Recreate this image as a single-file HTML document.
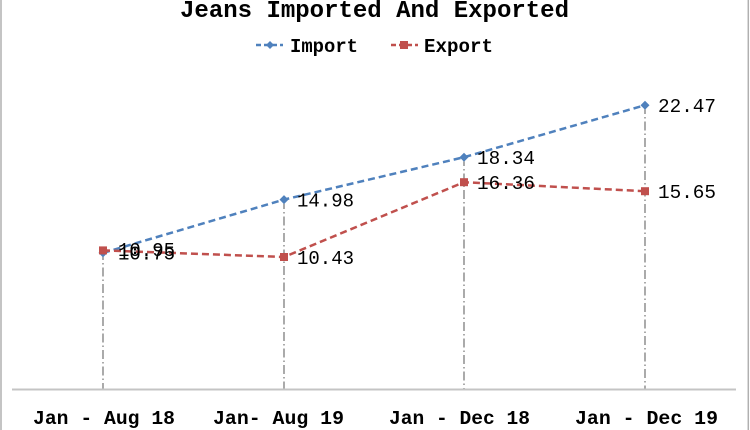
<!DOCTYPE html>
<html>
<head>
<meta charset="utf-8">
<style>
  html,body{margin:0;padding:0;background:#fff;}
  svg{display:block;}
  text{font-family:"Liberation Mono","Courier New",monospace;fill:#000;}
</style>
</head>
<body>
<svg width="750" height="430" viewBox="0 0 750 430" xmlns="http://www.w3.org/2000/svg">
  <rect x="0" y="0" width="750" height="430" fill="#fff"/>
  <!-- side borders -->
  <line x1="1" y1="0" x2="1" y2="430" stroke="#b0b0b0" stroke-width="1.5"/>
  <line x1="748.3" y1="0" x2="748.3" y2="430" stroke="#b0b0b0" stroke-width="1.5"/>

  <!-- title -->
  <text x="180" y="17" font-size="24" font-weight="bold" textLength="389" lengthAdjust="spacingAndGlyphs">Jeans Imported And Exported</text>

  <!-- legend -->
  <line x1="256" y1="45" x2="283" y2="45" stroke="#4f81bd" stroke-width="2.5" stroke-dasharray="5,3"/>
  <path d="M270 41 L274 45 L270 49 L266 45 Z" fill="#4f81bd"/>
  <text x="290" y="52" font-size="19" font-weight="bold" textLength="68" lengthAdjust="spacingAndGlyphs">Import</text>
  <line x1="391" y1="45" x2="418" y2="45" stroke="#c0504d" stroke-width="2.5" stroke-dasharray="5,3"/>
  <rect x="400" y="41" width="8" height="8" fill="#c0504d"/>
  <text x="424" y="52" font-size="19" font-weight="bold" textLength="69" lengthAdjust="spacingAndGlyphs">Export</text>

  <!-- drop lines -->
  <g stroke="#666666" stroke-width="1.1" stroke-dasharray="9,3,1.5,3" fill="none">
    <line x1="103" y1="251" x2="103" y2="389"/>
    <line x1="284" y1="200" x2="284" y2="389"/>
    <line x1="464" y1="157" x2="464" y2="389"/>
    <line x1="645" y1="105" x2="645" y2="389"/>
  </g>

  <!-- axis line -->
  <line x1="12" y1="389.5" x2="736" y2="389.5" stroke="#c4c4c4" stroke-width="2"/>

  <!-- Import series -->
  <polyline points="103,252.9 284,199.6 464,157.2 645,105.2" fill="none" stroke="#4f81bd" stroke-width="2.5" stroke-dasharray="7,4"/>
  <g fill="#4f81bd">
    <path d="M103 248.4 L107.5 252.9 L103 257.4 L98.5 252.9 Z"/>
    <path d="M284 195.1 L288.5 199.6 L284 204.1 L279.5 199.6 Z"/>
    <path d="M464 152.7 L468.5 157.2 L464 161.7 L459.5 157.2 Z"/>
    <path d="M645 100.7 L649.5 105.2 L645 109.7 L640.5 105.2 Z"/>
  </g>

  <!-- Export series -->
  <polyline points="103,250.4 284,257.0 464,182.2 645,191.2" fill="none" stroke="#c0504d" stroke-width="2.5" stroke-dasharray="7,4"/>
  <g fill="#c0504d">
    <rect x="99" y="246.4" width="8" height="8"/>
    <rect x="280" y="253" width="8" height="8"/>
    <rect x="460" y="178.2" width="8" height="8"/>
    <rect x="641" y="187.2" width="8" height="8"/>
  </g>

  <!-- data labels -->
  <g font-size="19">
    <text x="118" y="259.5" textLength="57" lengthAdjust="spacingAndGlyphs">10.75</text>
    <text x="297" y="206.5" textLength="57" lengthAdjust="spacingAndGlyphs">14.98</text>
    <text x="477" y="164" textLength="58" lengthAdjust="spacingAndGlyphs">18.34</text>
    <text x="658" y="112" textLength="58" lengthAdjust="spacingAndGlyphs">22.47</text>

    <text x="118" y="256" textLength="57" lengthAdjust="spacingAndGlyphs">10.95</text>
    <text x="297" y="264" textLength="57" lengthAdjust="spacingAndGlyphs">10.43</text>
    <text x="477" y="189" textLength="58" lengthAdjust="spacingAndGlyphs">16.36</text>
    <text x="658" y="198" textLength="58" lengthAdjust="spacingAndGlyphs">15.65</text>
  </g>

  <!-- category labels -->
  <g font-size="19" font-weight="bold">
    <text x="33" y="424" textLength="142" lengthAdjust="spacingAndGlyphs">Jan - Aug 18</text>
    <text x="213" y="424" textLength="131" lengthAdjust="spacingAndGlyphs">Jan- Aug 19</text>
    <text x="389" y="424" textLength="141" lengthAdjust="spacingAndGlyphs">Jan - Dec 18</text>
    <text x="575" y="424" textLength="143" lengthAdjust="spacingAndGlyphs">Jan - Dec 19</text>
  </g>
</svg>
</body>
</html>
